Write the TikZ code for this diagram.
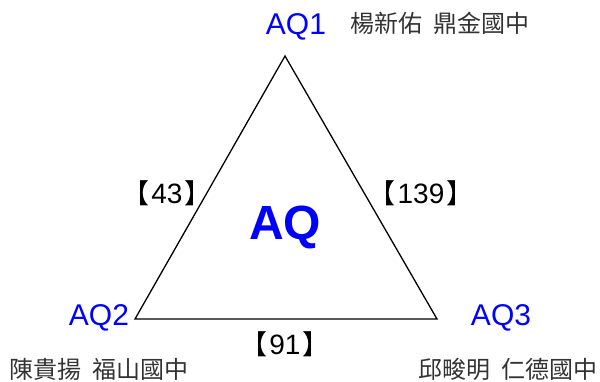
\documentclass[tikz,border=0pt]{standalone}
\usepackage{fontspec}
\setmainfont{Liberation Sans}
\newfontfamily\cjk{Noto Sans CJK TC}
\definecolor{aqblue}{RGB}{0,0,255}
\definecolor{namegray}{RGB}{51,51,51}
\newcommand{\gap}{\hspace{11pt}}
\newcommand{\lbrk}{{\cjk\fontsize{27}{27}\selectfont 【}}
\newcommand{\rbrk}{{\cjk\fontsize{27}{27}\selectfont 】}}
\tikzset{
  vlabel/.style={text=aqblue, font=\fontsize{30}{30}\selectfont, inner sep=0pt},
  namelabel/.style={text=namegray, font=\cjk\fontsize{24}{24}\selectfont, inner sep=0pt},
  edgelabel/.style={text=black, font=\fontsize{28}{28}\selectfont, inner sep=0pt},
  center/.style={text=aqblue, font=\bfseries\fontsize{48}{48}\selectfont, inner sep=0pt}
}
\begin{document}
\begin{tikzpicture}[x=1pt,y=-1pt]
\useasboundingbox (0,0) rectangle (600,381);
\coordinate (A) at (285,56);
\coordinate (B) at (135,319);
\coordinate (C) at (437,319);
\draw[line width=1.3pt, line join=miter] (A) -- (B) -- (C) -- cycle;
\node[vlabel] (aq1) at (296,27) {AQ1};
\node[vlabel] (aq2) at (99,318) {AQ2};
\node[vlabel] (aq3) at (501,318) {AQ3};
\node[namelabel] (n1) at (440,23) {楊新佑\gap 鼎金國中};
\node[namelabel] (n2) at (99,369) {陳貴揚\gap 福山國中};
\node[namelabel] (n3) at (508,369) {邱畯明\gap 仁德國中};
\node[edgelabel] (e1) at (167,193) {\lbrk\hspace{2pt}43\hspace{2pt}\rbrk};
\node[edgelabel] (e2) at (421,193) {\lbrk\hspace{2pt}139\hspace{2pt}\rbrk};
\node[edgelabel] (e3) at (285,344) {\lbrk\hspace{2pt}91\hspace{2pt}\rbrk};
\node[center] (aq) at (285,227) {AQ};
\end{tikzpicture}
\end{document}
